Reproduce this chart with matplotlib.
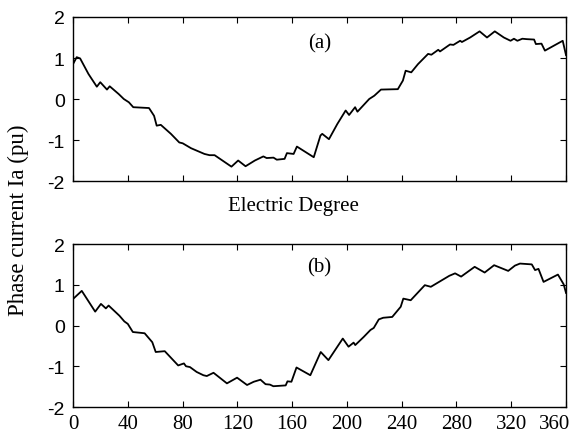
import matplotlib
matplotlib.use("Agg")
import matplotlib.pyplot as plt
from matplotlib.transforms import ScaledTranslation

plt.rcParams['font.family'] = ['Liberation Serif', 'DejaVu Serif']
plt.rcParams['axes.unicode_minus'] = False

# Curve (a)
deg_a = [0, 2.7, 5.2, 11.3, 17.4, 19.9, 24.8, 26.8, 33.4, 37.1, 40.8, 44, 55.5, 59.2, 61.1, 64.1,
         71.5, 77.6, 80.1, 86.2, 96, 99.7, 103.4, 115.7, 120.6, 126, 132.8, 139, 141.4, 146.4,
         148.8, 154.5, 156.2, 161.1, 163.5, 175.8, 180.7, 182, 186.9, 193, 199.1, 201.6, 206,
         207.7, 216.3, 220, 224.9, 237.2, 240.9, 242.9, 247, 251.9, 259.3, 261.7, 266.7, 268,
         275.3, 277.8, 282.7, 284, 290, 296.9, 302.3, 308, 314.6, 319.5, 322, 324.5, 328.1,
         331.3, 336.7, 338, 342.1, 344.6, 357.6, 360]
ia_a = [0.85, 1.02, 0.99, 0.61, 0.30, 0.41, 0.23, 0.31, 0.12, 0.0, -0.08, -0.2, -0.22, -0.41, -0.65,
        -0.63, -0.85, -1.06, -1.08, -1.2, -1.34, -1.37, -1.37, -1.65, -1.5, -1.64, -1.5, -1.40,
        -1.44, -1.43, -1.48, -1.46, -1.32, -1.34, -1.16, -1.42, -0.89, -0.85, -0.98, -0.61,
        -0.28, -0.39, -0.2, -0.31, 0.0, 0.08, 0.23, 0.24, 0.45, 0.69, 0.65, 0.85, 1.10, 1.08,
        1.2, 1.16, 1.33, 1.32, 1.42, 1.39, 1.50, 1.65, 1.50, 1.65, 1.50, 1.42, 1.47, 1.42, 1.47,
        1.46, 1.45, 1.34, 1.35, 1.18, 1.42, 1.07]

# Curve (b)
deg_b = [0, 6.4, 16.2, 20.4, 24, 26, 33.9, 37.5, 40, 43.7, 52.3, 57.9, 60.4, 67, 76.8, 81, 82.5,
         85.4, 90.3, 95.2, 97.7, 102.6, 112.4, 119.8, 127.1, 132, 136.9, 140.6, 143.8, 146.3,
         155.3, 156.6, 159.5, 163.2, 173.3, 180.9, 186.5, 197, 201.2, 204.9, 206.1, 212.3,
         217.2, 219.6, 223.3, 226.5, 233.1, 239.3, 241.2, 246.6, 256.9, 261.3, 266.3, 274.8,
         279, 283.4, 293.3, 300.6, 307.5, 317.8, 322.7, 326.4, 335, 337.4, 339.9, 343.6, 354.1,
         358.3, 360]
ia_b = [0.65, 0.85, 0.34, 0.53, 0.42, 0.49, 0.24, 0.10, 0.04, -0.16, -0.19, -0.41, -0.65, -0.63,
        -0.98, -0.93, -1.0, -1.02, -1.14, -1.22, -1.24, -1.16, -1.42, -1.28, -1.46, -1.38, -1.33,
        -1.44, -1.45, -1.49, -1.47, -1.37, -1.38, -1.03, -1.22, -0.65, -0.85, -0.32, -0.52,
        -0.42, -0.48, -0.28, -0.11, -0.06, 0.15, 0.19, 0.21, 0.46, 0.66, 0.62, 0.99, 0.95, 1.05,
        1.22, 1.28, 1.2, 1.44, 1.30, 1.48, 1.34, 1.47, 1.52, 1.50, 1.36, 1.39, 1.07, 1.25, 1.01,
        0.80]

xticks = [0, 40, 80, 120, 160, 200, 240, 280, 320, 360]
yticks = [-2, -1, 0, 1, 2]

fig = plt.figure(figsize=(5.73, 4.39), dpi=100)
ax1 = fig.add_axes([0.1274, 0.5854, 0.8604, 0.3736])
ax2 = fig.add_axes([0.1274, 0.0706, 0.8604, 0.3713])

for ax, x, y, tag in [(ax1, deg_a, ia_a, '(a)'), (ax2, deg_b, ia_b, '(b)')]:
    ax.plot(x, y, color='black', lw=1.3)
    ax.set_xlim(0, 360)
    ax.set_ylim(-2, 2)
    ax.set_xticks(xticks)
    ax.set_yticks(yticks)
    ax.tick_params(direction='in', top=True, right=True, length=4, width=0.8)
    ax.tick_params(axis='x', labelsize=15, pad=5)
    ax.tick_params(axis='y', labelsize=14, pad=6)
    for lab in ax.get_yticklabels():
        lab.set_family(['Liberation Sans', 'DejaVu Sans'])
    for s in ax.spines.values():
        s.set_linewidth(1.0)
    ax.text(0.5, 0.86 if tag == '(b)' else 0.84, tag, transform=ax.transAxes,
            ha='center', va='center', fontsize=15)

ax1.set_xticklabels([])
# shift the last x tick label inward, as in the reference
last = ax2.get_xticklabels()[-1]
last.set_transform(last.get_transform() + ScaledTranslation(-0.11, 0, fig.dpi_scale_trans))

fig.text(293 / 573, 1 - 207 / 439, 'Electric Degree', ha='center', va='center', fontsize=15)
fig.text(18 / 573, 1 - 220 / 439, 'Phase current Ia (pu)', rotation=90, ha='center', va='center',
         fontsize=16.5)

fig.savefig('out.png', dpi=100)
